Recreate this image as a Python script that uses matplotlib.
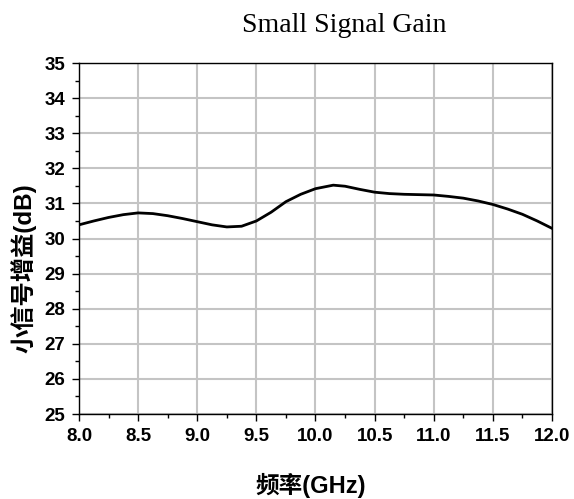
import numpy as np
import matplotlib.pyplot as plt
from matplotlib.ticker import MultipleLocator

# Small signal gain versus frequency
freq_ghz = [8.0, 8.125, 8.25, 8.375, 8.5, 8.625, 8.75, 8.875, 9.0, 9.125, 9.25, 9.375,
            9.5, 9.625, 9.75, 9.875, 10.0, 10.15, 10.25, 10.375, 10.5, 10.625, 10.75,
            10.875, 11.0, 11.125, 11.25, 11.375, 11.5, 11.625, 11.75, 11.875, 12.0]
gain_db = [30.39, 30.50, 30.60, 30.68, 30.73, 30.71, 30.65, 30.57, 30.48, 30.39, 30.33, 30.35,
           30.50, 30.75, 31.05, 31.26, 31.42, 31.52, 31.49, 31.40, 31.32, 31.28, 31.26,
           31.25, 31.24, 31.20, 31.15, 31.07, 30.97, 30.84, 30.69, 30.50, 30.29]

latin_cjk = ['Liberation Sans', 'Noto Sans CJK SC']

fig = plt.figure(figsize=(5.74, 4.99), dpi=100)
ax = fig.add_axes([0.1376, 0.1703, 0.8241, 0.7034])

ax.plot(freq_ghz, gain_db, color='black', linewidth=2.0, zorder=3)

ax.set_xlim(8.0, 12.0)
ax.set_ylim(25, 35)
ax.xaxis.set_major_locator(MultipleLocator(0.5))
ax.xaxis.set_minor_locator(MultipleLocator(0.25))
ax.yaxis.set_major_locator(MultipleLocator(1))
ax.yaxis.set_minor_locator(MultipleLocator(0.5))
ax.xaxis.set_major_formatter(lambda v, p: f'{v:.1f}')
ax.yaxis.set_major_formatter(lambda v, p: f'{v:.0f}')

ax.grid(True, which='major', color='#c4c4c4', linewidth=1.5, zorder=0)
ax.set_axisbelow(True)
for s in ax.spines.values():
    s.set_linewidth(1.0)
    s.set_color('black')

ax.tick_params(which='major', direction='out', length=5, width=1.0, pad=5)
ax.tick_params(which='minor', direction='out', length=3, width=1.0)
for lbl in ax.get_xticklabels() + ax.get_yticklabels():
    lbl.set_fontfamily(latin_cjk)
    lbl.set_fontweight('bold')
    lbl.set_fontsize(13.5)

ax.set_xlabel('频率(GHz)', family=latin_cjk, fontweight='bold', fontsize=17)
ax.xaxis.set_label_coords(0.49, -0.168)
ax.set_ylabel('小信号增益(dB)', family=latin_cjk, fontweight='bold', fontsize=17.5)
ax.yaxis.set_label_coords(-0.089, 0.417)

fig.text(0.599, 1 - 25 / 499, 'Small Signal Gain', family='Liberation Serif',
         fontsize=20, ha='center', va='center')

fig.savefig('out.png', dpi=100)
